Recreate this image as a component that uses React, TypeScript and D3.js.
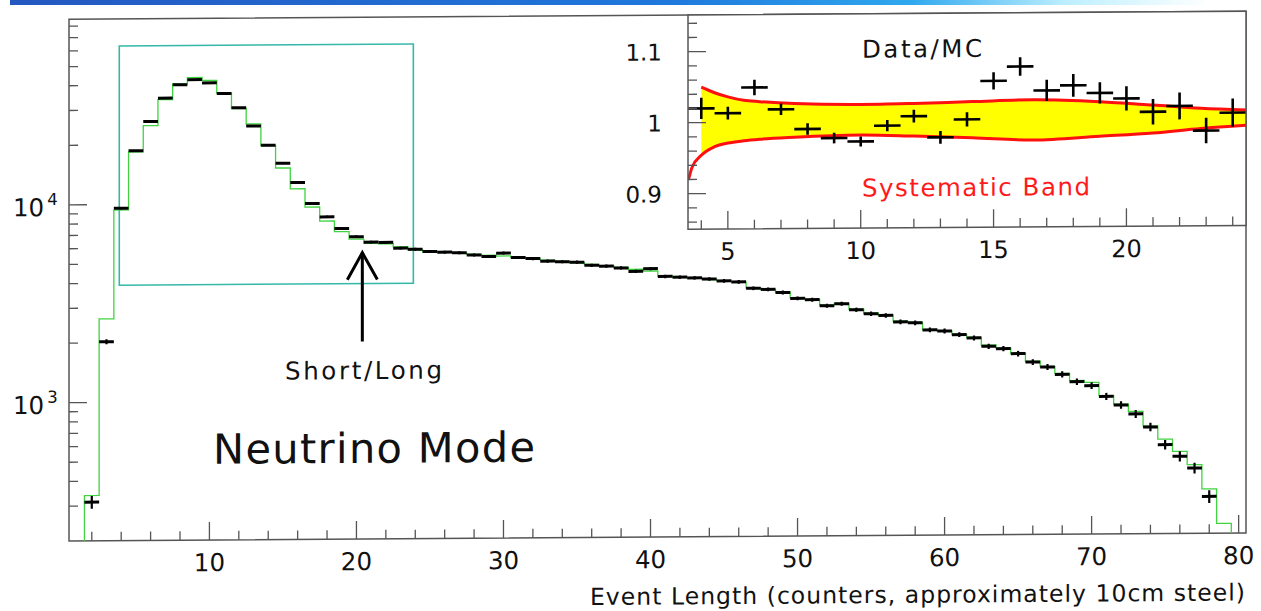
import React from 'react';
import * as d3 from 'd3';

const W = 1261;
const H = 611;
const FONT = "'DejaVu Sans', sans-serif";

// main plot: event length bins (counters), first bin = 2
const firstDataBin = 2;
const dataCounts = [
  314, 2026, 9570, 18660, 26220, 34390, 40130, 42550, 40890, 36110,
  30530, 24690, 19700, 15960, 12740, 9966, 8525, 7440, 6750, 6330,
  6300, 5890, 5810, 5650, 5600, 5550, 5405, 5305, 5513, 5230,
  5160, 5000, 4960, 4930, 4750, 4700, 4594, 4410, 4546, 4150,
  4110, 4070, 4013, 3920, 3870, 3590, 3540, 3410, 3180, 3130,
  2912, 2977, 2773, 2644, 2589, 2400, 2370, 2180, 2150, 2059,
  1979, 1793, 1743, 1643, 1488, 1403, 1286, 1180, 1125, 992,
  896, 807, 692, 563, 491, 428, 307,
];

// monte carlo histogram (green), first bin = 2
const firstMcBin = 2;
const mcCounts = [
  339, 2647, 9380, 18420, 24990, 33770, 40550, 43570, 42090, 36330,
  30310, 25280, 19660, 15110, 11840, 9570, 8120, 7170, 6560, 6250,
  6200, 5980, 5750, 5620, 5580, 5530, 5450, 5380, 5330, 5240,
  5160, 5060, 4980, 4900, 4800, 4720, 4620, 4520, 4420, 4160,
  4100, 4050, 3990, 3920, 3860, 3600, 3540, 3430, 3200, 3130,
  2940, 2990, 2790, 2660, 2600, 2420, 2380, 2190, 2150, 2060,
  1990, 1820, 1750, 1650, 1500, 1410, 1300, 1195, 1169, 1000,
  905, 830, 700, 600, 520, 445, 335, 224,
];

// inset: data/MC ratio for bins 4..24
const firstRatioBin = 4;
const ratio = [
  1.020, 1.013, 1.049, 1.018, 0.990, 0.977, 0.972, 0.994, 1.007, 0.977,
  1.002, 1.056, 1.076, 1.042, 1.049, 1.038, 1.030, 1.011, 1.019, 0.984, 1.009,
];
const ratioErr = [
  0.015, 0.009, 0.011, 0.008, 0.008, 0.0075, 0.007, 0.008, 0.009, 0.009,
  0.010, 0.012, 0.013, 0.015, 0.016, 0.015, 0.017, 0.018, 0.019, 0.018, 0.020,
];

// systematic band edges
const bandX = [4, 4.5, 5, 5.6, 6.2, 7.5, 10, 12, 14.2, 16.5, 19, 21, 22.8, 24.5];
const bandHi = [1.050, 1.042, 1.036, 1.031, 1.029, 1.026, 1.024, 1.025, 1.027, 1.029, 1.0256, 1.0204, 1.0154, 1.0125];
const bandLo = [0.954, 0.966, 0.971, 0.974, 0.976, 0.9785, 0.981, 0.979, 0.976, 0.9723, 0.977, 0.981, 0.987, 0.991];
const lowTailX = [3.52, 3.65];
const lowTail = [0.92, 0.937];

// tick labels
const mainXLabels = [10, 20, 30, 40, 50, 60, 70, 80];
const mainYLabels = [1000, 10000];
const insetXLabels = [5, 10, 15, 20];
const insetYLabels = ['0.9', '1', '1.1'];

// annotations
const zoomBox = { x0: 3.87, x1: 23.87, y0: 3910, y1: 63300 };
const cutAt = 20.4;
const arrowTip = 5600;
const arrowTail = 1990;

export default function App() {
  const x = d3.scaleLinear().domain([0.45, 80.5]).range([69, 1246]);
  const y = d3.scaleLog().domain([200, 86700]).range([541, 19.3]);
  const ix = d3.scaleLinear().domain([3.5, 24.5]).range([688, 1246]);
  const iy = d3.scaleLinear().domain([0.8499, 1.1516]).range([233.5, 19.3]);

  const [bx0, bx1] = x.range();
  const [by0, by1] = y.range();
  const [ix0, ix1] = ix.range();
  const [iy0, iy1] = iy.range();

  // green MC step histogram
  const mcPts: [number, number][] = [[x(firstMcBin - 0.5), by0]];
  mcCounts.forEach((c, i) => {
    const b = firstMcBin + i;
    mcPts.push([x(b - 0.5), y(c)]);
    mcPts.push([x(b + 0.5), y(c)]);
  });
  mcPts.push([x(firstMcBin + mcCounts.length - 0.5), by0]);
  const mcPath = d3.line()(mcPts) as string;

  // main y ticks from the log scale
  const yTicks = y.ticks().filter(t => t > 200 && t < 86700);
  const xTicks = d3.range(2, 81, 2);

  const insetXTicks = d3.range(4, 25);
  const insetYTicks = d3.range(43, 58).map(k => k * 0.02);

  const bandArea = d3.area<number>()
    .x((d, i) => ix(bandX[i]))
    .y0((d, i) => iy(bandLo[i]))
    .y1((d, i) => iy(bandHi[i]))
    .curve(d3.curveMonotoneX)(bandX) as string;
  const hiLine = d3.line<number>()
    .x((d, i) => ix(bandX[i]))
    .y((d, i) => iy(bandHi[i]))
    .curve(d3.curveMonotoneX)(bandX) as string;
  const loXs = lowTailX.concat(bandX);
  const loYs = lowTail.concat(bandLo);
  const loLine = d3.line<number>()
    .x((d, i) => ix(loXs[i]))
    .y((d, i) => iy(loYs[i]))
    .curve(d3.curveMonotoneX)(loXs) as string;

  const skew = 'translate(69,541) skewY(-0.39) translate(-69,-541)';
  const axisCol = '#555';

  return (
    <svg width={W} height={H} style={{ position: 'absolute', left: 0, top: 0, background: '#fff' }} fontFamily={FONT}>
      <defs>
        <linearGradient id="hdr" x1="0" x2="1" y1="0" y2="0">
          <stop offset="0" stopColor="#2457c0" />
          <stop offset="0.55" stopColor="#1f78dc" />
          <stop offset="0.75" stopColor="#2fa8ee" />
          <stop offset="0.88" stopColor="#bdefff" />
          <stop offset="1" stopColor="#ffffff" />
        </linearGradient>
        <clipPath id="insetClip">
          <rect x={ix0} y={iy1} width={ix1 - ix0} height={iy0 - iy1} />
        </clipPath>
      </defs>

      <rect x={10} y={0} width={1200} height={5} fill="url(#hdr)" />

      <g transform={skew}>
        {/* main frame */}
        <rect x={bx0} y={by1} width={bx1 - bx0} height={by0 - by1} fill="none" stroke={axisCol} strokeWidth={1.5} />

        {/* main y ticks */}
        {yTicks.map(t => {
          const major = Math.abs(Math.log10(t) - Math.round(Math.log10(t))) < 1e-9;
          return <line key={'yt' + t} x1={bx0} x2={bx0 + (major ? 18 : 9)} y1={y(t)} y2={y(t)} stroke={axisCol} strokeWidth={1.3} />;
        })}
        {mainYLabels.map(t => (
          <text key={'yl' + t} x={13} y={y(t) + 11} fontSize={24.5} fill="#111">
            10<tspan dx={3} dy={-11} fontSize={16.5}>{Math.round(Math.log10(t))}</tspan>
          </text>
        ))}

        {/* main x ticks */}
        {xTicks.map(t => (
          <line key={'xt' + t} x1={x(t)} x2={x(t)} y1={by0} y2={by0 - (t % 10 === 0 ? 18 : 9)} stroke={axisCol} strokeWidth={1.3} />
        ))}
        {mainXLabels.map(t => (
          <text key={'xl' + t} x={x(t)} y={572} fontSize={24.5} textAnchor="middle" fill="#111">{t}</text>
        ))}
        <text x={1245} y={608.5} fontSize={23.5} textAnchor="end" textLength={655} lengthAdjust="spacing" fill="#111">
          Event Length (counters, approximately 10cm steel)
        </text>

        {/* zoom box */}
        <rect x={x(zoomBox.x0)} y={y(zoomBox.y1)} width={x(zoomBox.x1) - x(zoomBox.x0)} height={y(zoomBox.y0) - y(zoomBox.y1)}
          fill="none" stroke="#35b8a8" strokeWidth={1.6} />

        {/* MC histogram */}
        <path d={mcPath} fill="none" stroke="#3fd43f" strokeWidth={1.3} />

        {/* data points */}
        {dataCounts.map((c, i) => {
          const b = firstDataBin + i;
          const e = 1.3 * Math.sqrt(c);
          return (
            <g key={'d' + b}>
              <line x1={x(b - 0.5)} x2={x(b + 0.5)} y1={y(c)} y2={y(c)} stroke="#000" strokeWidth={3} />
              <line x1={x(b)} x2={x(b)} y1={y(c - e)} y2={y(c + e)} stroke="#000" strokeWidth={2.2} />
            </g>
          );
        })}

        {/* short/long arrow */}
        <line x1={x(cutAt)} x2={x(cutAt)} y1={y(arrowTail)} y2={y(arrowTip)} stroke="#000" strokeWidth={3} />
        <polyline points={`${x(cutAt) - 15},${y(arrowTip) + 27} ${x(cutAt)},${y(arrowTip)} ${x(cutAt) + 15},${y(arrowTip) + 27}`}
          fill="none" stroke="#000" strokeWidth={3} />
        <text x={285} y={381} fontSize={24.5} textLength={157} lengthAdjust="spacing" fill="#111">Short/Long</text>

        <text x={213} y={464.8} fontSize={41.5} textLength={322} lengthAdjust="spacing" fill="#111">Neutrino Mode</text>

        {/* inset */}
        <rect x={ix0} y={iy1} width={ix1 - ix0} height={iy0 - iy1} fill="#fff" />
        <g clipPath="url(#insetClip)">
          <path d={bandArea} fill="#ffff00" />
          <path d={hiLine} fill="none" stroke="#ff1010" strokeWidth={3} />
          <path d={loLine} fill="none" stroke="#ff1010" strokeWidth={3} />
          {ratio.map((r, i) => {
            const b = firstRatioBin + i;
            return (
              <g key={'r' + b}>
                <line x1={ix(b - 0.5)} x2={ix(b + 0.5)} y1={iy(r)} y2={iy(r)} stroke="#000" strokeWidth={2.6} />
                <line x1={ix(b)} x2={ix(b)} y1={iy(r - ratioErr[i])} y2={iy(r + ratioErr[i])} stroke="#000" strokeWidth={2.6} />
              </g>
            );
          })}
        </g>
        <rect x={ix0} y={iy1} width={ix1 - ix0} height={iy0 - iy1} fill="none" stroke={axisCol} strokeWidth={1.5} />
        {insetXTicks.map(t => (
          <line key={'ixt' + t} x1={ix(t)} x2={ix(t)} y1={iy0} y2={iy0 - (t % 5 === 0 ? 18 : 9)} stroke={axisCol} strokeWidth={1.3} />
        ))}
        {insetYTicks.map(t => {
          const major = Math.abs(t * 10 - Math.round(t * 10)) < 1e-6;
          return <line key={'iyt' + t} x1={ix0} x2={ix0 + (major ? 18 : 9)} y1={iy(t)} y2={iy(t)} stroke={axisCol} strokeWidth={1.3} />;
        })}
        {insetXLabels.map(t => (
          <text key={'ixl' + t} x={ix(t)} y={264.3} fontSize={24} textAnchor="middle" fill="#111">{t}</text>
        ))}
        {insetYLabels.map(t => (
          <text key={'iyl' + t} x={662} y={iy(+t) + 8.5} fontSize={23} textAnchor="end" fill="#111">{t}</text>
        ))}
        <text x={862} y={63.1} fontSize={24.5} textLength={120} lengthAdjust="spacing" fill="#111">Data/MC</text>
        <text x={862} y={202} fontSize={24.5} textLength={228} lengthAdjust="spacing" fill="#ff1a1a">Systematic Band</text>
      </g>
    </svg>
  );
}
